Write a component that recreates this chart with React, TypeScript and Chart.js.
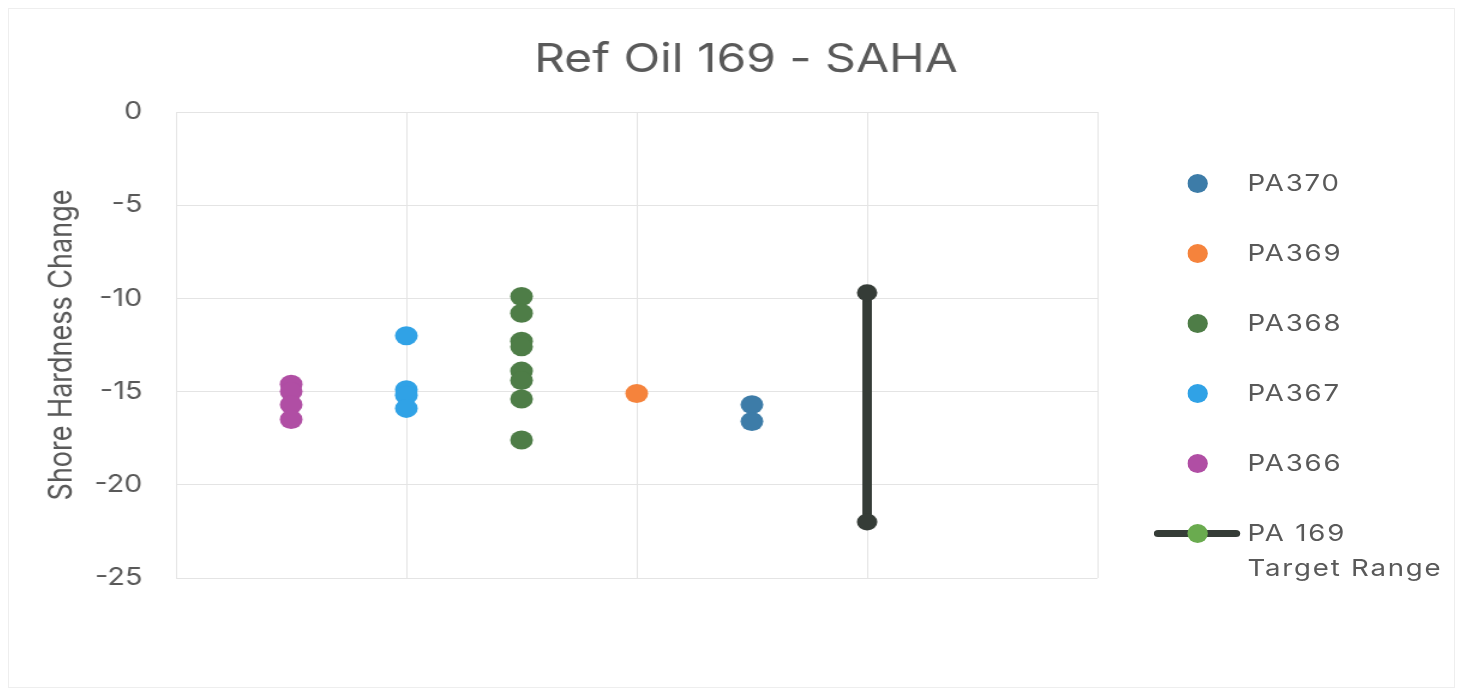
import React, { useEffect, useRef } from "react";
import { Chart, registerables } from "chart.js";

Chart.register(...registerables);

// ---- data ----
const chartTitle = "Ref Oil 169 - SAHA";
const yAxisTitle = "Shore Hardness Change";
const seriesNames = ["PA366", "PA367", "PA368", "PA369", "PA370"];
const seriesX = [0.5, 1, 1.5, 2, 2.5];
const pa366 = [-14.6, -15.0, -15.7, -16.5];
const pa367 = [-12.0, -14.9, -15.2, -15.9];
const pa368 = [-9.9, -10.8, -12.3, -12.6, -13.9, -14.4, -15.4, -17.6];
const pa369 = [-15.1];
const pa370 = [-15.7, -16.6];
const seriesValues = [pa366, pa367, pa368, pa369, pa370];
const targetName = ["PA 169", "Target Range"];
const targetX = 3;
const targetRange = [-9.7, -22.0];
const yMin = -25;
const yMax = 0;
const yStep = 5;
const xMin = 0;
const xMax = 4;

// ---- styles ----
const seriesColors = ["#B04EA4", "#30A2E6", "#4E7D47", "#F5833C", "#3D7CA8"];
const targetColor = "#353C37";
const targetLegendDot = "#6AAB4F";
const textColor = "#595959";
const gridColor = "#E4E4E4";
const FONT = "Inter, 'Open Sans', 'Liberation Sans', sans-serif";

const OUTER_W = 1447;
const H = 680;
const INNER_W = 1206;
const S = OUTER_W / INNER_W;

export default function App() {
  const ref = useRef<HTMLCanvasElement>(null);

  useEffect(() => {
    if (!ref.current) return;
    const datasets: any[] = seriesNames.map((name, i) => ({
      label: name,
      data: seriesValues[i].map((v) => ({ x: seriesX[i], y: v })),
      backgroundColor: seriesColors[i],
      borderColor: seriesColors[i],
      pointRadius: 9.5,
      pointHoverRadius: 9.5,
      pointBorderWidth: 0,
      showLine: false,
    }));
    datasets.push({
      label: targetName.join(" "),
      data: targetRange.map((v) => ({ x: targetX, y: v })),
      borderColor: targetColor,
      backgroundColor: targetColor,
      borderWidth: 8,
      showLine: true,
      pointRadius: 8.5,
      pointHoverRadius: 8.5,
      pointBorderWidth: 0,
      pointBackgroundColor: targetColor,
    });

    const chart = new Chart(ref.current, {
      type: "scatter",
      data: { datasets },
      options: {
        animation: false,
        responsive: true,
        maintainAspectRatio: false,
        layout: { padding: { left: 24, right: 0, top: 0, bottom: 0 } },
        plugins: {
          legend: { display: false },
          tooltip: { enabled: false },
          title: {
            display: true,
            text: chartTitle,
            color: textColor,
            font: { family: FONT, size: 40, weight: "normal" },
            padding: { top: 28, bottom: 28 },
          },
        },
        scales: {
          x: {
            type: "linear",
            min: xMin,
            max: xMax,
            ticks: { display: false, stepSize: 1 },
            grid: { color: gridColor, lineWidth: 1, drawTicks: false },
            border: { display: false },
            afterFit: (s: any) => {
              s.height = 110;
            },
          },
          y: {
            type: "linear",
            min: yMin,
            max: yMax,
            ticks: {
              stepSize: yStep,
              color: textColor,
              padding: 28,
              font: { family: FONT, size: 24 },
            },
            grid: { color: gridColor, lineWidth: 1, drawTicks: false },
            border: { display: false },
            title: {
              display: true,
              text: yAxisTitle,
              color: textColor,
              font: { family: FONT, size: 27 },
              padding: { top: 5, bottom: 0 },
            },
            afterFit: (s: any) => {
              s.width = 116;
            },
          },
          y2: {
            type: "linear",
            position: "right",
            min: 0,
            max: 1,
            ticks: { display: false },
            grid: { display: false, drawTicks: false },
            border: { display: false },
            afterFit: (s: any) => {
              s.width = 298;
            },
          },
        },
      },
    });
    return () => chart.destroy();
  }, []);

  const legendItems = [...seriesNames].reverse().map((n, k) => ({
    name: n,
    color: seriesColors[seriesNames.length - 1 - k],
  }));
  const legendTop = 175;
  const legendGap = 70;
  const markerX = 991;
  const textX = 1033;
  const legendText: React.CSSProperties = {
    position: "absolute",
    left: textX,
    fontFamily: FONT,
    fontSize: 23,
    letterSpacing: "1.5px",
    color: textColor,
    whiteSpace: "nowrap",
  };

  return (
    <div
      style={{
        width: OUTER_W,
        height: H,
        position: "relative",
        overflow: "hidden",
        background: "#fff",
        boxShadow: "inset 0 0 0 1px #EEEEEE",
      }}
    >
      <div
        style={{
          position: "absolute",
          left: 0,
          top: 0,
          width: INNER_W,
          height: H,
          transform: `scaleX(${S})`,
          transformOrigin: "0 0",
        }}
      >
        <canvas ref={ref} />
        {legendItems.map((it, k) => (
          <div key={it.name}>
            <div
              style={{
                position: "absolute",
                left: markerX - 8.5,
                top: legendTop + k * legendGap - 9.5,
                width: 17,
                height: 19,
                borderRadius: "50%",
                background: it.color,
              }}
            />
            <div
              style={{
                ...legendText,
                top: legendTop + k * legendGap - 15,
                height: 30,
                lineHeight: "30px",
              }}
            >
              {it.name}
            </div>
          </div>
        ))}
        <div
          style={{
            position: "absolute",
            left: 955,
            top: legendTop + 5 * legendGap - 3.5,
            width: 72,
            height: 7,
            borderRadius: 4,
            background: targetColor,
          }}
        />
        <div
          style={{
            position: "absolute",
            left: markerX - 8.5,
            top: legendTop + 5 * legendGap - 9.5,
            width: 17,
            height: 19,
            borderRadius: "50%",
            background: targetLegendDot,
          }}
        />
        <div
          style={{
            ...legendText,
            top: legendTop + 5 * legendGap - 17,
            lineHeight: "35px",
          }}
        >
          {targetName[0]}
          <br />
          {targetName[1]}
        </div>
      </div>
    </div>
  );
}
